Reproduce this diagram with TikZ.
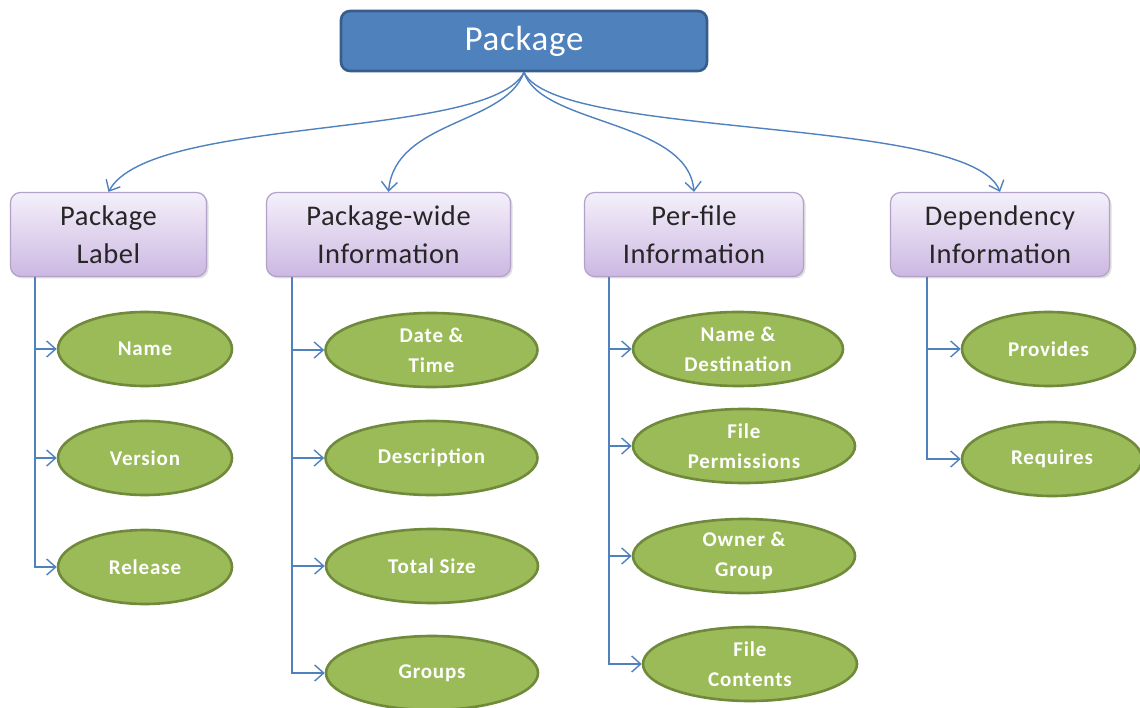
\documentclass[tikz,border=0pt]{standalone}
\usepackage{fontspec}
\setmainfont{Carlito}
\usetikzlibrary{shapes.geometric,arrows.meta,shadows}

\definecolor{pkgblue}{HTML}{4F81BD}
\definecolor{pkgedge}{HTML}{385D8A}
\definecolor{catedge}{HTML}{B3A2C7}
\definecolor{cattop}{HTML}{F4F0FA}
\definecolor{catbot}{HTML}{CCB8E2}
\definecolor{leaffill}{HTML}{9BBB59}
\definecolor{leafedge}{HTML}{6F8A3A}
\definecolor{linkblue}{HTML}{4F81BD}

\tikzset{
  rootbox/.style={draw=pkgedge, line width=2.6pt, fill=pkgblue, rounded corners=9pt,
    minimum width=366pt, minimum height=60pt, text=white,
    font=\fontsize{35}{38}\selectfont\addfontfeature{LetterSpace=2}},
  catbox/.style={draw=catedge, line width=1.2pt, rounded corners=10pt,
    top color=cattop, bottom color=catbot, minimum height=84pt,
    align=center, text=black!85,
    font=\fontsize{28.5}{38}\selectfont\addfontfeature{LetterSpace=2}},
  leaf/.style={ellipse, draw=leafedge, line width=2.6pt, fill=leaffill,
    inner sep=0pt, minimum height=74pt, align=center, text=white,
    font=\bfseries\fontsize{21}{30}\selectfont\addfontfeature{LetterSpace=4}},
  link/.style={draw=linkblue, line width=1.4pt,
    -{Straight Barb[length=9pt,width=16pt,line width=1.4pt]}},
}

\begin{document}
\begin{tikzpicture}[x=1pt,y=-1pt]
\useasboundingbox (0,0) rectangle (1140,708);

% root and the four categories
\node[rootbox] (pkg) at (524,41) {Package};
\begin{scope}[every node/.append style={drop shadow={opacity=0.25, shadow xshift=2pt, shadow yshift=-2pt}}]
\node[catbox, minimum width=196pt] (label) at (108.5,234.5) {Package\\Label};
\node[catbox, minimum width=244pt] (wide)  at (388.5,234.5) {Package-wide\\Information};
\node[catbox, minimum width=219pt] (file)  at (694,234.5) {Per-file\\Information};
\node[catbox, minimum width=219pt] (dep)   at (1000,234.5) {Dependency\\Information};
\end{scope}

% curved links from the root
\draw[link] (pkg.south) .. controls (490,140) and (150,115) .. (label.north);
\draw[link] (pkg.south) .. controls (505,125) and (395,120) .. (wide.north);
\draw[link] (pkg.south) .. controls (541,125) and (688,120) .. (file.north);
\draw[link] (pkg.south) .. controls (556,140) and (970,115) .. (dep.north);

% Package Label items
\node[leaf, minimum width=174pt] (name)    at (145,349) {Name};
\node[leaf, minimum width=174pt] (version) at (145,458) {Version};
\node[leaf, minimum width=174pt] (release) at (145,567) {Release};

% Package-wide items
\node[leaf, minimum width=212pt] (date)  at (431.5,350) {Date \&\\Time};
\node[leaf, minimum width=212pt] (descr) at (431.5,458) {Description};
\node[leaf, minimum width=212pt] (size)  at (432,566) {Total Size};
\node[leaf, minimum width=212pt] (groups) at (432,673) {Groups};

% Per-file items
\node[leaf, minimum width=210pt] (dest)  at (738,349) {Name \&\\Destination};
\node[leaf, minimum width=222pt] (perm)  at (744,446) {File\\Permissions};
\node[leaf, minimum width=222pt] (owner) at (744,556) {Owner \&\\Group};
\node[leaf, minimum width=214pt] (cont)  at (750,664) {File\\Contents};

% Dependency items
\node[leaf, minimum width=173pt] (prov) at (1048.5,349) {Provides};
\node[leaf, minimum width=180pt] (req)  at (1052,459) {Requires};

% branch trunks below each category
\coordinate (t1) at (35,277);
\coordinate (t2) at (292,277);
\coordinate (t3) at (609,277);
\coordinate (t4) at (927,277);

\foreach \t/\n in {t1/name, t1/version, t1/release,
                   t2/date, t2/descr, t2/size, t2/groups,
                   t3/dest, t3/perm, t3/owner, t3/cont,
                   t4/prov, t4/req}
  \draw[link] (\t) |- (\n.west);
\end{tikzpicture}
\end{document}
